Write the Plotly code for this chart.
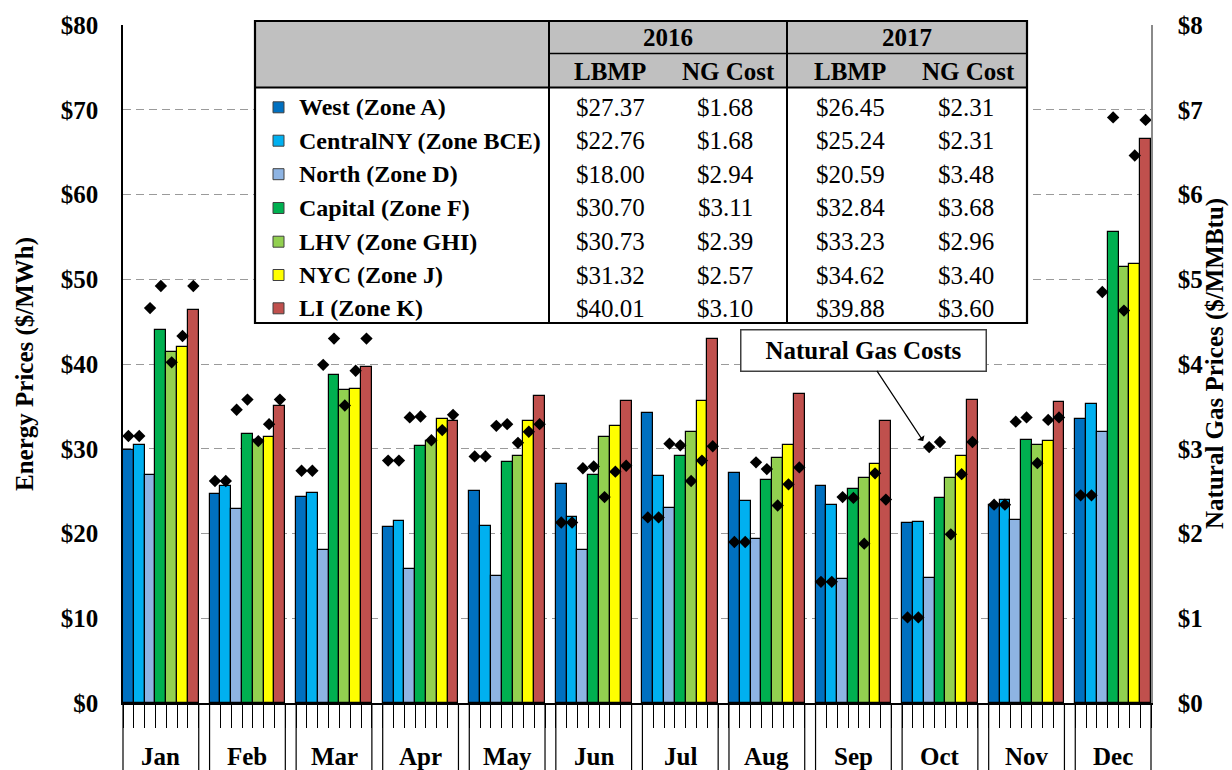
import plotly.graph_objects as go

# ---------------- data ----------------
months = ["Jan", "Feb", "Mar", "Apr", "May", "Jun", "Jul", "Aug", "Sep", "Oct", "Nov", "Dec"]
zones = ["West (Zone A)", "CentralNY (Zone BCE)", "North (Zone D)", "Capital (Zone F)",
         "LHV (Zone GHI)", "NYC (Zone J)", "LI (Zone K)"]
zone_colors = ["#0070C0", "#00B0F0", "#8EB4E3", "#00B050", "#92D050", "#FFFF00", "#C0504D"]

# Monthly LBMP ($/MWh)
lbmp_west = [29.9, 24.7, 24.3, 20.8, 25.0, 25.8, 34.2, 27.1, 25.65, 21.2, 23.4, 33.5]
lbmp_central = [30.5, 25.65, 24.8, 21.5, 20.9, 22.0, 26.8, 23.8, 23.4, 21.35, 24.0, 35.3]
lbmp_north = [26.95, 22.9, 18.1, 15.8, 15.0, 18.1, 23.05, 19.4, 14.6, 14.8, 21.55, 32.0]
lbmp_capital = [44.0, 31.7, 38.7, 30.3, 28.4, 26.95, 29.1, 26.3, 25.2, 24.2, 31.05, 55.6]
lbmp_lhv = [41.4, 31.0, 36.9, 30.9, 29.1, 31.4, 32.0, 28.9, 26.6, 26.5, 30.4, 51.5]
lbmp_nyc = [42.0, 31.4, 37.1, 33.5, 33.3, 32.7, 35.6, 30.4, 28.25, 29.2, 30.9, 51.85]
lbmp_li = [46.4, 35.0, 39.7, 33.3, 36.2, 35.6, 42.9, 36.45, 33.3, 35.8, 35.5, 66.6]

# Monthly natural gas cost ($/MMBtu)
gas_west = [3.15, 2.62, 2.74, 2.86, 2.91, 2.13, 2.19, 1.90, 1.43, 1.01, 2.34, 2.45]
gas_central = [3.15, 2.62, 2.74, 2.86, 2.91, 2.13, 2.19, 1.90, 1.43, 1.01, 2.34, 2.45]
gas_north = [4.66, 3.46, 3.99, 3.37, 3.27, 2.77, 3.06, 2.84, 2.43, 3.02, 3.32, 4.85]
gas_capital = [4.92, 3.58, 4.30, 3.38, 3.29, 2.79, 3.04, 2.76, 2.42, 3.08, 3.37, 6.91]
gas_lhv = [4.02, 3.09, 3.51, 3.10, 3.07, 2.43, 2.62, 2.33, 1.88, 1.99, 2.83, 4.63]
gas_nyc = [4.33, 3.29, 3.92, 3.22, 3.20, 2.73, 2.86, 2.58, 2.71, 2.70, 3.34, 6.46]
gas_li = [4.92, 3.58, 4.30, 3.40, 3.29, 2.80, 3.03, 2.78, 2.40, 3.08, 3.37, 6.88]

# Annual summary table
table_lbmp_2016 = ["$27.37", "$22.76", "$18.00", "$30.70", "$30.73", "$31.32", "$40.01"]
table_ng_2016 = ["$1.68", "$1.68", "$2.94", "$3.11", "$2.39", "$2.57", "$3.10"]
table_lbmp_2017 = ["$26.45", "$25.24", "$20.59", "$32.84", "$33.23", "$34.62", "$39.88"]
table_ng_2017 = ["$2.31", "$2.31", "$3.48", "$3.68", "$2.96", "$3.40", "$3.60"]

left_ticks = [0, 10, 20, 30, 40, 50, 60, 70, 80]
left_ticktext = ["$0", "$10", "$20", "$30", "$40", "$50", "$60", "$70", "$80"]
right_ticks = [0, 1, 2, 3, 4, 5, 6, 7, 8]
right_ticktext = ["$0", "$1", "$2", "$3", "$4", "$5", "$6", "$7", "$8"]

lbmp_all = [lbmp_west, lbmp_central, lbmp_north, lbmp_capital, lbmp_lhv, lbmp_nyc, lbmp_li]
gas_all = [gas_west, gas_central, gas_north, gas_capital, gas_lhv, gas_nyc, gas_li]

# ---------------- layout geometry ----------------
FONT = "Liberation Serif"
FIG_W, FIG_H = 1232, 770
L, R, T, B = 123, 1151, 25, 703
PW, PH = R - L, B - T
SLOTS = 8  # 7 zones + 1 gap slot per month
NSLOT = len(months) * SLOTS - 1


def xp(px):
    return (px - L) / PW


def yp(py):
    return (B - py) / PH


fig = go.Figure()

for zi, (name, col) in enumerate(zip(zones, zone_colors)):
    xs = [m * SLOTS + zi for m in range(len(months))]
    fig.add_trace(go.Bar(
        x=xs, y=lbmp_all[zi], width=1, name=name,
        marker=dict(color=col, line=dict(color="black", width=1.2)),
        showlegend=False,
    ))

for zi in range(len(zones)):
    xs = [m * SLOTS + zi for m in range(len(months))]
    fig.add_trace(go.Scatter(
        x=xs, y=gas_all[zi], yaxis="y2", mode="markers",
        marker=dict(symbol="diamond", size=9.5, color="black"),
        showlegend=False,
    ))

# x tick boundaries
boundaries = [b + 0.5 for b in range(-1, NSLOT)]
long_bounds = [-0.5, NSLOT - 0.5]
for m in range(len(months) - 1):
    long_bounds += [m * SLOTS + 6.5, m * SLOTS + 7.5]

shapes = []
for b in long_bounds:
    xx = (b + 0.5) / NSLOT
    shapes.append(dict(type="line", xref="paper", yref="paper", x0=xx, x1=xx,
                       y0=0, y1=yp(772), line=dict(color="black", width=1.2)))

# ---------------- summary table ----------------
TX0, TX1, TY0, TY1 = 255, 1027, 21, 323
C1, C2 = 549, 787
HMID, HBOT = 53.5, 87.5
shapes.append(dict(type="rect", xref="paper", yref="paper", x0=xp(TX0), x1=xp(TX1),
                   y0=yp(TY1), y1=yp(TY0), fillcolor="white", line=dict(width=0)))
shapes.append(dict(type="rect", xref="paper", yref="paper", x0=xp(TX0), x1=xp(TX1),
                   y0=yp(HBOT), y1=yp(TY0), fillcolor="#C0C0C0", line=dict(width=0)))
shapes.append(dict(type="line", xref="paper", yref="paper", x0=xp(TX0), x1=xp(TX1),
                   y0=yp(HBOT), y1=yp(HBOT), line=dict(color="black", width=2)))
shapes.append(dict(type="line", xref="paper", yref="paper", x0=xp(C1), x1=xp(TX1),
                   y0=yp(HMID), y1=yp(HMID), line=dict(color="black", width=1.5)))
for cx in (C1, C2):
    shapes.append(dict(type="line", xref="paper", yref="paper", x0=xp(cx), x1=xp(cx),
                       y0=yp(TY1), y1=yp(TY0), line=dict(color="black", width=2)))
shapes.append(dict(type="rect", xref="paper", yref="paper", x0=xp(TX0), x1=xp(TX1),
                   y0=yp(TY1), y1=yp(TY0), line=dict(color="black", width=2.2)))

annotations = []
row_y = [107.3, 140.7, 174.2, 208.0, 241.7, 275.0, 308.3]
for i, name in enumerate(zones):
    ry = row_y[i]
    shapes.append(dict(type="rect", xref="paper", yref="paper", x0=xp(273), x1=xp(284),
                       y0=yp(ry + 5.5), y1=yp(ry - 5.5), fillcolor=zone_colors[i],
                       line=dict(color="#404040", width=1)))
    annotations.append(dict(xref="paper", yref="paper", x=xp(297), y=yp(ry), text="<b>" + name + "</b>",
                            xanchor="left", yanchor="middle", showarrow=False,
                            font=dict(family=FONT, size=24, color="black")))
    for cx, col in ((610, table_lbmp_2016), (725, table_ng_2016), (850, table_lbmp_2017), (966, table_ng_2017)):
        annotations.append(dict(xref="paper", yref="paper", x=xp(cx), y=yp(ry), text=col[i],
                                xanchor="center", yanchor="middle", showarrow=False,
                                font=dict(family=FONT, size=25, color="black")))

for cx, txt in ((668, "2016"), (907, "2017")):
    annotations.append(dict(xref="paper", yref="paper", x=xp(cx), y=yp(38), text="<b>" + txt + "</b>",
                            xanchor="center", yanchor="middle", showarrow=False,
                            font=dict(family=FONT, size=25, color="black")))
for cx, txt in ((610, "LBMP"), (728, "NG Cost"), (850, "LBMP"), (968, "NG Cost")):
    annotations.append(dict(xref="paper", yref="paper", x=xp(cx), y=yp(71.5), text="<b>" + txt + "</b>",
                            xanchor="center", yanchor="middle", showarrow=False,
                            font=dict(family=FONT, size=25, color="black")))

# month labels
for m, mo in enumerate(months):
    annotations.append(dict(xref="x", yref="paper", x=m * SLOTS + 3, y=yp(757), text="<b>" + mo + "</b>",
                            xanchor="center", yanchor="middle", showarrow=False,
                            font=dict(family=FONT, size=25, color="black")))

# axis titles
annotations.append(dict(xref="paper", yref="paper", x=xp(25), y=0.5, text="<b>Energy Prices ($/MWh)</b>",
                        textangle=-90, xanchor="center", yanchor="middle", showarrow=False,
                        font=dict(family=FONT, size=25, color="black")))
annotations.append(dict(xref="paper", yref="paper", x=xp(1215), y=0.5,
                        text="<b>Natural Gas Prices ($/MMBtu)</b>",
                        textangle=-90, xanchor="center", yanchor="middle", showarrow=False,
                        font=dict(family=FONT, size=25, color="black")))

# callout
oct_i = months.index("Oct")
annotations.append(dict(xref="x", yref="y2", x=oct_i * SLOTS + 2 - 0.55, y=gas_north[oct_i] + 0.07,
                        text="<b>Natural Gas Costs</b>", showarrow=True,
                        axref="pixel", ayref="pixel", ax=-60, ay=-91,
                        arrowhead=1, arrowsize=1.2, arrowwidth=1.2, arrowcolor="black",
                        bgcolor="white", bordercolor="#404040", borderwidth=1.5,
                        width=240, height=36, borderpad=2,
                        font=dict(family=FONT, size=25, color="black")))

fig.update_layout(
    width=FIG_W, height=FIG_H,
    margin=dict(l=L, r=FIG_W - R, t=T, b=FIG_H - B),
    paper_bgcolor="white", plot_bgcolor="white",
    barmode="overlay", bargap=0,
    showlegend=False,
    xaxis=dict(range=[-0.5, NSLOT - 0.5], showgrid=False, zeroline=False,
               tickmode="array", tickvals=boundaries, ticktext=[""] * len(boundaries),
               ticks="outside", ticklen=23, tickwidth=1, tickcolor="black",
               showline=True, linecolor="black", linewidth=2, showticklabels=False,
               automargin=False),
    yaxis=dict(range=[0, 80], tickmode="array", tickvals=left_ticks,
               ticktext=["<b>" + t + "</b>" for t in left_ticktext],
               tickfont=dict(family=FONT, size=25, color="black"),
               showgrid=True, gridcolor="#9a9a9a", griddash="8px,5px", gridwidth=1.3,
               zeroline=False, showline=True, linecolor="black", linewidth=1.5,
               ticks="", ticklabelstandoff=18, automargin=False),
    yaxis2=dict(range=[0, 8], overlaying="y", side="right", tickmode="array",
                tickvals=right_ticks, ticktext=["<b>" + t + "</b>" for t in right_ticktext],
                tickfont=dict(family=FONT, size=25, color="black"),
                showgrid=False, zeroline=False, showline=True, linecolor="#8a8a8a", linewidth=1.5,
                ticks="", ticklabelstandoff=20, automargin=False),
    shapes=shapes,
    annotations=annotations,
)

fig.write_html("out.html", config={"displayModeBar": False},
               post_script="document.body.style.margin='0';document.body.style.overflow='hidden';")
